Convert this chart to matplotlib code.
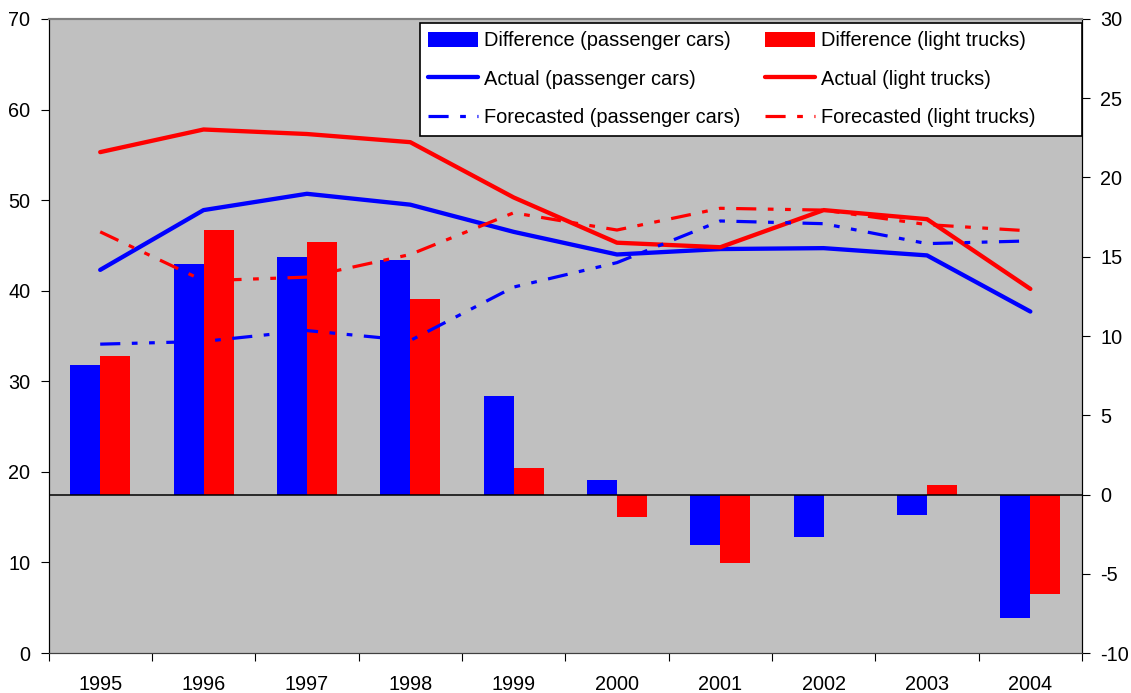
import matplotlib
matplotlib.use("Agg")
import matplotlib.pyplot as plt
import numpy as np

plt.rcParams['font.family'] = ['Liberation Sans', 'DejaVu Sans']
plt.rcParams['axes.unicode_minus'] = False

years = ["1995", "1996", "1997", "1998", "1999", "2000", "2001", "2002", "2003", "2004"]

# bars, right axis
diff_cars = [8.2, 14.55, 15.0, 14.8, 6.2, 0.9, -3.2, -2.7, -1.3, -7.8]
diff_trucks = [8.75, 16.7, 15.9, 12.35, 1.7, -1.45, -4.35, 0.0, 0.57, -6.3]

# lines, left axis
actual_cars = [42.3, 48.9, 50.7, 49.5, 46.5, 44.0, 44.6, 44.7, 43.9, 37.7]
actual_trucks = [55.3, 57.8, 57.3, 56.4, 50.3, 45.3, 44.8, 48.9, 47.9, 40.2]
forecast_cars = [34.1, 34.4, 35.6, 34.5, 40.4, 43.1, 47.7, 47.4, 45.2, 45.5]
forecast_trucks = [46.5, 41.1, 41.5, 44.0, 48.6, 46.7, 49.1, 48.9, 47.3, 46.6]

blue = "#0000FF"
red = "#FF0000"
bg = "#C0C0C0"
x = np.arange(len(years))
width = 0.29
# long dash - dot - dot
dash = (0, (6.3, 3.6, 1.8, 3.6, 1.8, 3.6))

fig = plt.figure(figsize=(11.31, 6.93), dpi=100)
ax = fig.add_axes([0.0429, 0.0577, 0.9138, 0.9149])
ax2 = ax.twinx()

# bars on the right axis, drawn behind the lines
ax2.set_zorder(1)
ax.set_zorder(2)
ax.patch.set_visible(False)
ax2.set_facecolor(bg)
ax2.patch.set_visible(True)

b1 = ax2.bar(x - width / 2, diff_cars, width, color=blue, label="Difference (passenger cars)")
b2 = ax2.bar(x + width / 2, diff_trucks, width, color=red, label="Difference (light trucks)")
ax2.axhline(0, color="black", lw=1.1, zorder=3)
ax2.set_ylim(-10, 30)
ax2.set_yticks(np.arange(-10, 31, 5))

l1, = ax.plot(x, actual_cars, color=blue, lw=3.1, solid_capstyle="round", label="Actual (passenger cars)")
l2, = ax.plot(x, actual_trucks, color=red, lw=3.1, solid_capstyle="round", label="Actual (light trucks)")
l3, = ax.plot(x, forecast_cars, color=blue, lw=2.3, linestyle=dash, label="Forecasted (passenger cars)")
l4, = ax.plot(x, forecast_trucks, color=red, lw=2.3, linestyle=dash, label="Forecasted (light trucks)")
ax.set_ylim(0, 70)
ax.set_yticks(np.arange(0, 71, 10))
ax.set_xlim(-0.5, len(years) - 0.5)

# ticks between categories, labels at centers
ax.set_xticks(np.arange(-0.5, len(years), 1))
ax.set_xticklabels([])
ax.set_xticks(x, minor=True)
ax.set_xticklabels(years, minor=True)
ax.tick_params(axis="x", which="major", length=6, direction="out")
ax.tick_params(axis="x", which="minor", length=0, pad=16, labelsize=14.3)
ax.tick_params(axis="y", length=6, direction="out", labelsize=14.3, pad=7)
ax2.tick_params(axis="y", length=6, direction="out", labelsize=14.3, pad=7)

for a in (ax, ax2):
    a.spines["top"].set_color("#808080")
    a.spines["top"].set_linewidth(1.5)
    a.spines["bottom"].set_color("#404040")
    a.spines["left"].set_color("black")
    a.spines["right"].set_color("black")

handles = [b1, l1, l3, b2, l2, l4]
# Excel legend uses equal column widths, pad the second column
labels = [h.get_label() for h in handles]
labels[3:] = [s + "       " for s in labels[3:]]
leg = ax.legend(handles=handles, labels=labels,
                ncol=2, loc="upper right", bbox_to_anchor=(1.0, 1 - 4 / 634),
                borderaxespad=0, fancybox=False, framealpha=1, edgecolor="black",
                fontsize=14.4, handlelength=2.5, handleheight=0.8, handletextpad=0.3,
                columnspacing=1.2, labelspacing=0.97, borderpad=0.42)
leg.get_frame().set_linewidth(1.2)

fig.savefig("out.png", dpi=100)
